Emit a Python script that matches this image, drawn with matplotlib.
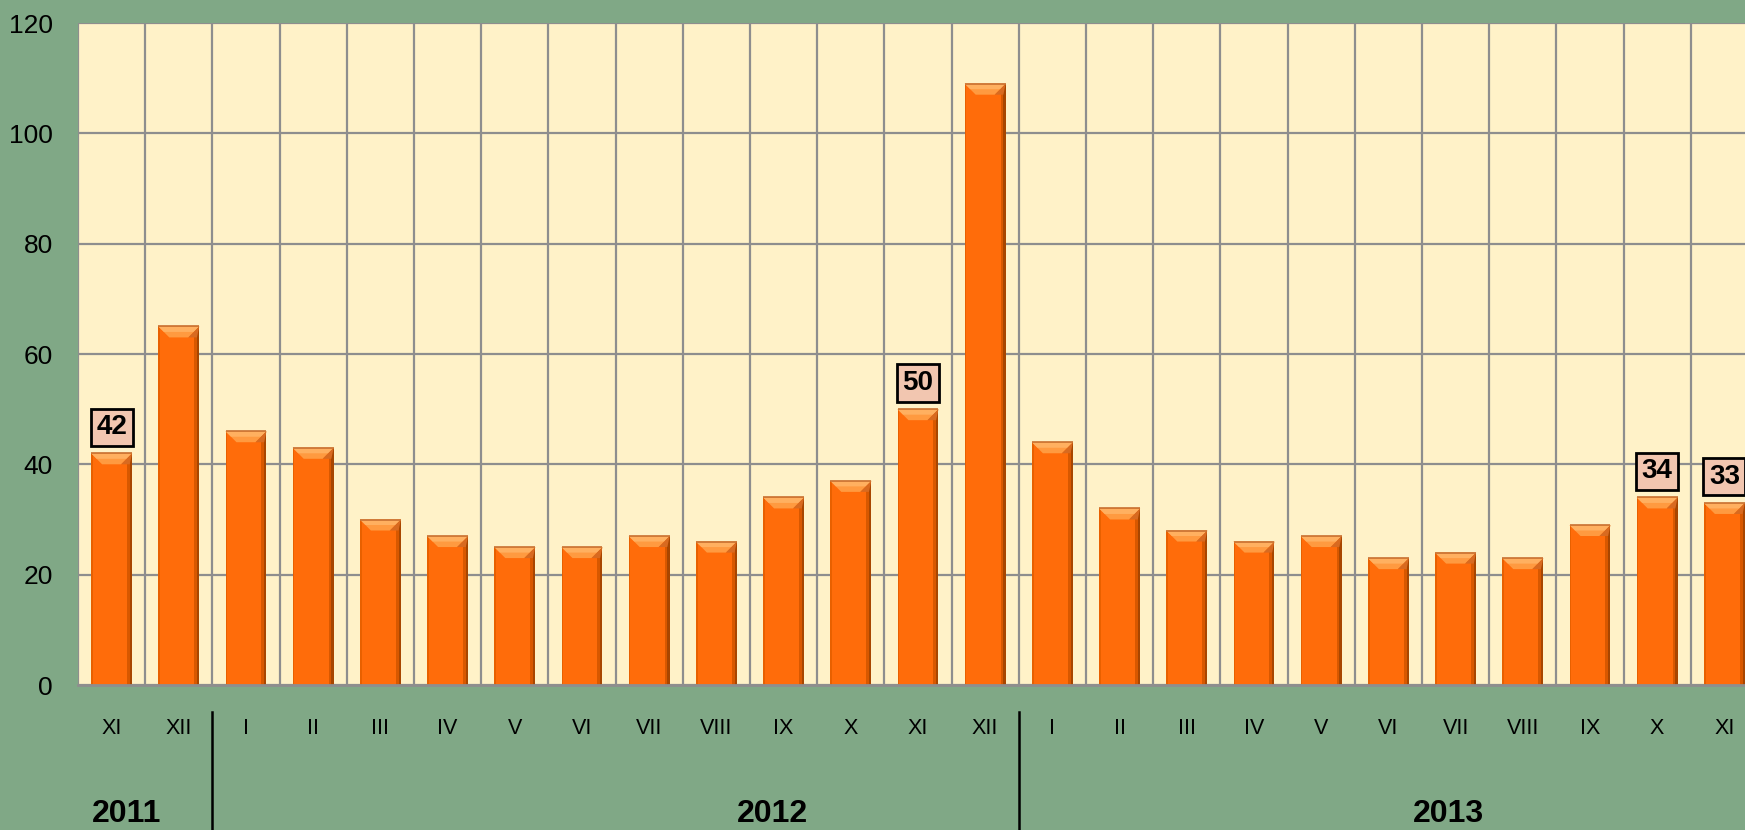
import matplotlib
matplotlib.use("Agg")
import matplotlib.pyplot as plt
from matplotlib.patches import Polygon, Rectangle
from matplotlib.transforms import blended_transform_factory

# ---- data ----
months = ["XI", "XII", "I", "II", "III", "IV", "V", "VI", "VII", "VIII", "IX", "X", "XI", "XII",
          "I", "II", "III", "IV", "V", "VI", "VII", "VIII", "IX", "X", "XI"]
values = [42, 65, 46, 43, 30, 27, 25, 25, 27, 26, 34, 37, 50, 109,
          44, 32, 28, 26, 27, 23, 24, 23, 29, 34, 33]
labelled = [0, 12, 23, 24]          # bars that carry a value box
years = ["2011", "2012", "2013"]
year_pos = [0.23, 9.84, 19.9]        # x (category units) of the year captions
year_breaks = [1.5, 13.5]            # separators between years
yticks = [0, 20, 40, 60, 80, 100, 120]

# ---- style ----
BG = "#80A886"
PLOT_BG = "#FFF2C8"
GRID = "#8E8E8E"
BAR = "#FF6C0A"
BAR_DARK = "#A84600"
BAR_MID = "#D85800"
BAR_TOP = "#FF9A40"
FONT = ["Liberation Sans", "DejaVu Sans"]
plt.rcParams["font.family"] = FONT

W, H = 1745, 830
fig = plt.figure(figsize=(W / 100, H / 100), dpi=100, facecolor=BG)
ax = fig.add_axes([78 / W, 1 - 685 / H, 1680 / W, (685 - 23) / H])
ax.set_facecolor(PLOT_BG)

n = len(values)
x = list(range(n))
ax.set_xlim(-0.5, n - 0.5)
ax.set_ylim(0, 120)

# gridlines: horizontal at ticks, vertical between categories
for yv in yticks:
    ax.axhline(yv, color=GRID, lw=1.6, zorder=1)
for b in range(n + 1):
    ax.axvline(b - 0.5, color=GRID, lw=1.6, zorder=1)

bw = 0.61
bars = ax.bar(x, values, width=bw, color=BAR, edgecolor="none", zorder=3)

# bevel effect, derived from each bar patch
px_per_x = 1680 / n
px_per_y = (685 - 23) / 120
bev_x = 11 / px_per_x
bev_y = 11 / px_per_y
for p in bars:
    x0 = p.get_x()
    w = p.get_width()
    h = p.get_height()
    # side shading
    ax.add_patch(Rectangle((x0 + w - 0.075, 0), 0.075, h, color=BAR_MID, zorder=3.1, lw=0))
    ax.add_patch(Rectangle((x0 + w - 0.035, 0), 0.035, h, color=BAR_DARK, zorder=3.2, lw=0))
    ax.add_patch(Rectangle((x0, 0), 0.025, h, color="#E86000", zorder=3.1, lw=0))
    # top bevel
    ax.add_patch(Polygon([(x0, h), (x0 + w, h), (x0 + w - bev_x, h - bev_y), (x0 + bev_x, h - bev_y)],
                         closed=True, color=BAR_TOP, zorder=3.3, lw=0))
    ax.add_patch(Polygon([(x0, h), (x0 + w, h), (x0 + w - bev_x / 2, h - bev_y / 2), (x0 + bev_x / 2, h - bev_y / 2)],
                         closed=True, color="#FFB060", zorder=3.32, lw=0))
    ax.add_patch(Polygon([(x0 + w, h), (x0 + w - bev_x, h - bev_y), (x0 + w - 0.035, h - bev_y)],
                         closed=True, color="#D86A20", zorder=3.35, lw=0))
    ax.plot([x0, x0 + w], [h, h], color="#C87030", lw=1.2, zorder=3.4, solid_capstyle="butt")

# value boxes
for i in labelled:
    ax.annotate(str(values[i]), (x[i], values[i]), xytext=(0, 9.5), textcoords="offset points",
                ha="center", va="bottom", fontsize=20, fontweight="bold", color="black",
                bbox=dict(boxstyle="square,pad=0.2", fc="#F2C6B0", ec="black", lw=2),
                zorder=5, annotation_clip=False)

# axes formatting
for s in ax.spines.values():
    s.set_visible(False)
ax.spines["bottom"].set_visible(True)
ax.spines["bottom"].set_color(GRID)
ax.spines["bottom"].set_linewidth(2)
ax.spines["bottom"].set_zorder(4)
ax.set_xticks(x)
ax.set_xticklabels(months, fontsize=15.5)
ax.set_yticks(yticks)
ax.set_yticklabels([str(v) for v in yticks], fontsize=19)
ax.tick_params(axis="x", length=0, pad=24)
ax.tick_params(axis="y", length=0, pad=18)

# year separators and captions
tr = blended_transform_factory(ax.transData, fig.transFigure)
for b in year_breaks:
    ax.plot([b, b], [0, 1 - 712 / H], color="black", lw=1.8, transform=tr, clip_on=False)
for yl, xp in zip(years, year_pos):
    ax.text(xp, 1 - 822 / H, yl, transform=tr, ha="center", va="baseline",
            fontsize=23, fontweight="bold", color="black")

fig.savefig("out.png", dpi=100, facecolor=BG)
